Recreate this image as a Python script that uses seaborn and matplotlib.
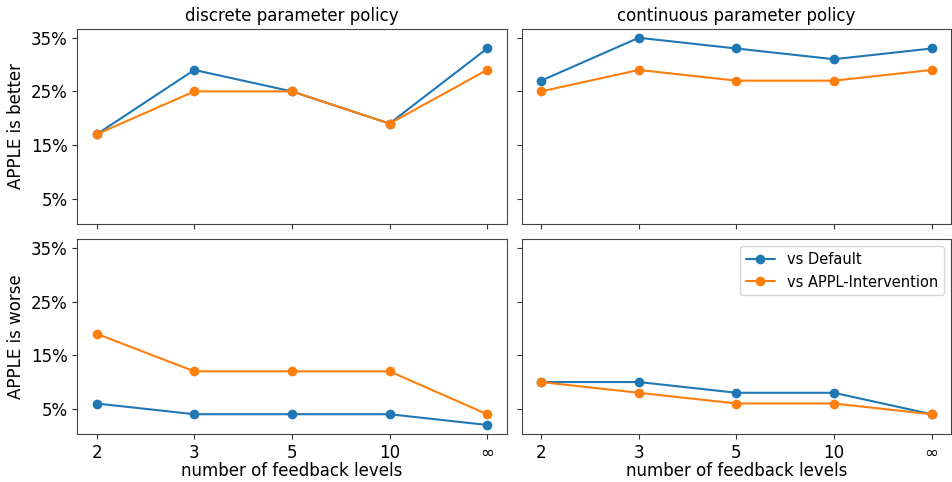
import matplotlib
matplotlib.use("Agg")
import matplotlib.pyplot as plt
import seaborn as sns
import numpy as np
from matplotlib.ticker import PercentFormatter

levels = ["2", "3", "5", "10", "∞"]

# APPLE is better
better_discrete_default = [17, 29, 25, 19, 33]
better_discrete_intervention = [17, 25, 25, 19, 29]
better_continuous_default = [27, 35, 33, 31, 33]
better_continuous_intervention = [25, 29, 27, 27, 29]

# APPLE is worse
worse_discrete_default = [6, 4, 4, 4, 2]
worse_discrete_intervention = [19, 12, 12, 12, 4]
worse_continuous_default = [10, 10, 8, 8, 4]
worse_continuous_intervention = [10, 8, 6, 6, 4]

sns.set_style("ticks")
plt.rcParams["font.family"] = ["DejaVu Sans"]
plt.rcParams["font.size"] = 11
plt.rcParams["text.color"] = "black"
plt.rcParams["axes.labelcolor"] = "black"
plt.rcParams["xtick.color"] = "#333333"
plt.rcParams["ytick.color"] = "#333333"
plt.rcParams["xtick.labelcolor"] = "black"
plt.rcParams["ytick.labelcolor"] = "black"

fig, axes = plt.subplots(2, 2, figsize=(9.53, 4.82), dpi=100, sharex=True, sharey=True)

x = np.arange(len(levels))
panels = [
    (axes[0, 0], better_discrete_default, better_discrete_intervention),
    (axes[0, 1], better_continuous_default, better_continuous_intervention),
    (axes[1, 0], worse_discrete_default, worse_discrete_intervention),
    (axes[1, 1], worse_continuous_default, worse_continuous_intervention),
]
for ax, blue, orange in panels:
    sns.lineplot(x=x, y=blue, marker="o", markeredgewidth=0, markersize=7,
                 color="#1f77b4", label="vs Default", ax=ax, legend=False)
    sns.lineplot(x=x, y=orange, marker="o", markeredgewidth=0, markersize=7,
                 color="#ff7f0e", label="vs APPL-Intervention", ax=ax, legend=False)
    for s in ax.spines.values():
        s.set_color("#444444")

axes[1, 0].set_xticks(x)
axes[1, 0].set_xticklabels(levels)
axes[0, 0].set_yticks([5, 15, 25, 35])
axes[0, 0].yaxis.set_major_formatter(PercentFormatter(decimals=0))

for ax in axes.flat:
    ax.tick_params(labelsize=12)

axes[0, 0].set_title("discrete parameter policy", fontsize=12)
axes[0, 1].set_title("continuous parameter policy", fontsize=12)
axes[0, 0].set_ylabel("APPLE is better", fontsize=12)
axes[1, 0].set_ylabel("APPLE is worse", fontsize=12)
axes[1, 0].set_xlabel("number of feedback levels", fontsize=12, labelpad=0)
axes[1, 1].set_xlabel("number of feedback levels", fontsize=12, labelpad=0)

axes[1, 1].legend(loc="upper right", fontsize=10.5)

fig.subplots_adjust(left=0.081, right=0.998, top=0.94, bottom=0.1, wspace=0.035, hspace=0.08)
fig.savefig("out.png", dpi=100)
